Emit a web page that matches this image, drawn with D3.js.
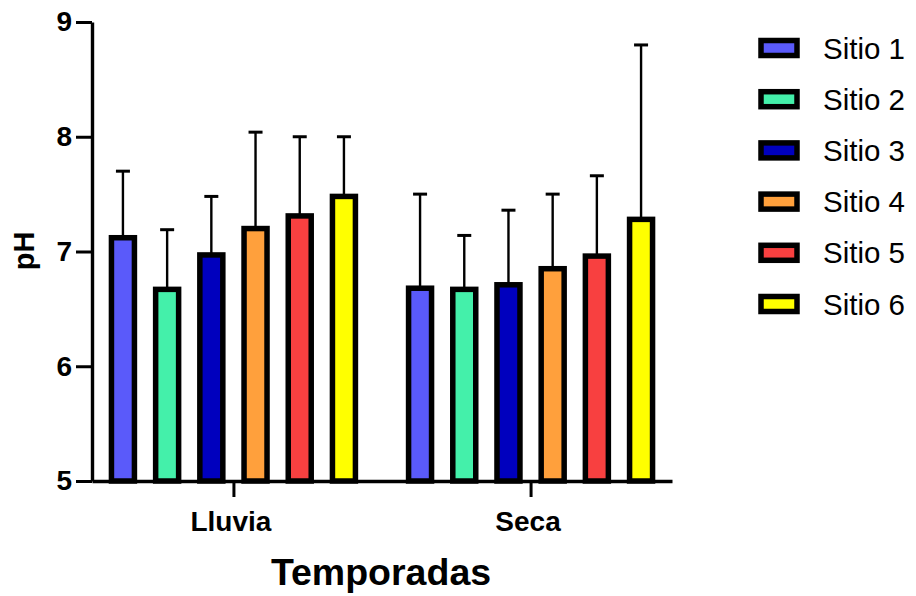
<!DOCTYPE html>
<html>
<head>
<meta charset="utf-8">
<script src="https://cdn.jsdelivr.net/npm/d3@7"></script>
<style>
  html, body { margin: 0; padding: 0; background: #fff; }
  svg { display: block; font-family: "Liberation Sans", Arial, sans-serif; }
</style>
</head>
<body>
<svg id="chart" width="916" height="596"></svg>
<script>
// Seasons and sampling sites
const seasons = ["Lluvia", "Seca"];
const sites = ["Sitio 1", "Sitio 2", "Sitio 3", "Sitio 4", "Sitio 5", "Sitio 6"];

// Mean pH per site, one array per season
const meanLluvia = [7.12, 6.67, 6.97, 7.20, 7.31, 7.48];
const meanSeca   = [6.68, 6.67, 6.71, 6.85, 6.96, 7.28];

// Standard deviation (upper error bar length)
const sdLluvia = [0.58, 0.52, 0.51, 0.84, 0.69, 0.52];
const sdSeca   = [0.82, 0.47, 0.65, 0.65, 0.70, 1.52];

// Y-axis ticks
const yTicks = [5, 6, 7, 8, 9];

const siteColors = ["#5a5afa", "#44f0aa", "#0000be", "#ffa03c", "#f84040", "#ffff00"];

const means = { "Lluvia": meanLluvia, "Seca": meanSeca };
const sds = { "Lluvia": sdLluvia, "Seca": sdSeca };

const rows = [];
seasons.forEach(s => {
  sites.forEach((site, i) => {
    rows.push({ season: s, site, i, mean: means[s][i], sd: sds[s][i] });
  });
});

const svg = d3.select("#chart");

const plotLeft = 92, plotRight = 672, plotTop = 22, plotBottom = 481;

const y = d3.scaleLinear().domain([5, 9]).range([plotBottom, plotTop]);
const x0 = d3.scalePoint().domain(seasons).range([plotLeft, plotRight]).padding(0.476);
const x1 = d3.scaleBand().domain(sites).range([-132.6, 132.6]).paddingInner(0.48).paddingOuter(0.24);
const color = d3.scaleOrdinal().domain(sites).range(siteColors);

// Error bars (drawn first so bars sit on top)
const err = svg.append("g").attr("class", "errors");
rows.forEach(d => {
  const cx = x0(d.season) + x1(d.site) + x1.bandwidth() / 2;
  err.append("line")
    .attr("x1", cx).attr("x2", cx)
    .attr("y1", y(d.mean)).attr("y2", y(d.mean + d.sd))
    .attr("stroke", "#000").attr("stroke-width", 2.4);
  err.append("line")
    .attr("x1", cx - 7).attr("x2", cx + 7)
    .attr("y1", y(d.mean + d.sd)).attr("y2", y(d.mean + d.sd))
    .attr("stroke", "#000").attr("stroke-width", 3);
});

// Bars
svg.append("g").attr("class", "bars")
  .selectAll("rect")
  .data(rows)
  .join("rect")
  .attr("x", d => x0(d.season) + x1(d.site))
  .attr("width", x1.bandwidth())
  .attr("y", d => y(d.mean))
  .attr("height", d => y(5) - y(d.mean))
  .attr("fill", d => color(d.site))
  .attr("stroke", "#000")
  .attr("stroke-width", 5.5);

// Y axis
const yAxis = svg.append("g")
  .attr("transform", `translate(${plotLeft},0)`)
  .call(d3.axisLeft(y).tickValues(yTicks).tickFormat(d3.format("d"))
    .tickSize(16).tickSizeOuter(0).tickPadding(4));
yAxis.select(".domain").attr("stroke-width", 3.4);
yAxis.selectAll(".tick line").attr("stroke-width", 3);
yAxis.selectAll(".tick text")
  .attr("font-family", "Liberation Sans, Arial, sans-serif")
  .attr("font-size", 28).attr("font-weight", "bold").attr("fill", "#000");

// X axis
const xAxis = svg.append("g")
  .attr("transform", `translate(0,${plotBottom})`)
  .call(d3.axisBottom(x0).tickSize(16).tickSizeOuter(0).tickPadding(14));
xAxis.select(".domain").attr("stroke-width", 3.4);
xAxis.selectAll(".tick line").attr("stroke-width", 3);
xAxis.selectAll(".tick text")
  .attr("font-family", "Liberation Sans, Arial, sans-serif")
  .attr("font-size", 28).attr("font-weight", "bold").attr("fill", "#000")
  .attr("dx", -3);

// Axis titles
svg.append("text")
  .attr("x", 381).attr("y", 585)
  .attr("text-anchor", "middle")
  .attr("font-size", 37.5).attr("font-weight", "bold")
  .text("Temporadas");

svg.append("text")
  .attr("transform", "translate(34,251) rotate(-90)")
  .attr("text-anchor", "middle")
  .attr("font-size", 29).attr("font-weight", "bold")
  .text("pH");

// Legend
const legend = svg.append("g").attr("class", "legend");
sites.forEach((site, i) => {
  const cy = 48 + i * 51.2;
  legend.append("rect")
    .attr("x", 761).attr("y", cy - 7.5)
    .attr("width", 36).attr("height", 15)
    .attr("fill", color(site))
    .attr("stroke", "#000").attr("stroke-width", 5.5);
  legend.append("text")
    .attr("x", 823).attr("y", cy + 10.5)
    .attr("font-size", 29.5)
    .text(site);
});
</script>
</body>
</html>
